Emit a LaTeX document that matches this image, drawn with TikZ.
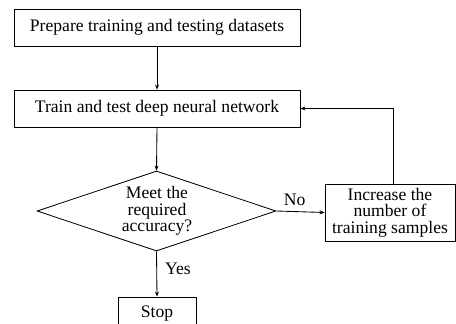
\documentclass[tikz,border=0pt]{standalone}
\usepackage{fontspec}
\setmainfont{Liberation Serif}
\usetikzlibrary{arrows.meta,shapes.geometric}
\begin{document}
\begin{tikzpicture}[x=1pt,y=-1pt,
  every node/.style={font=\fontsize{17.6}{16.6}\selectfont, inner sep=0pt, align=center},
  box/.style={draw, line width=0.85pt, rectangle},
  flowline/.style={line width=0.85pt, -{Stealth[length=5pt,width=4pt]}}]
\useasboundingbox (0,0) rectangle (456,324);
\clip (0,0) rectangle (456,324);
% process boxes
\node[box, minimum width=286, minimum height=37] (prep) at (157,27.5) {Prepare training and testing datasets};
\node[box, minimum width=286, minimum height=37] (train) at (157,108.5) {Train and test deep neural network};
% decision
\node[draw, line width=0.85pt, diamond, minimum width=239, minimum height=80, aspect=3] (dec) at (156.5,211) {};
\node at (157,211) (dectext) {Meet the\\required\\accuracy?};
% extra samples box
\node[box, minimum width=130, minimum height=57] (more) at (390,212.5) {Increase the\\number of\\training samples};
% stop box (runs off the lower edge)
\node[box, minimum width=78, minimum height=50] (stop) at (157,322) {};
\node at (157,314) (stoptext) {Stop};
% connectors
\draw[flowline] (prep.south) -- (train.north);
\draw[flowline] (train.south) -- (dec.north);
\draw[flowline] (dec.east) -- (more.west) node[pos=0.38, above=5pt] {No};
\draw[flowline] (dec.south) -- (stop.north) node[pos=0.38, right=8pt] {Yes};
\draw[flowline] ([xshift=3pt]more.north) |- (train.east);
\end{tikzpicture}
\end{document}
